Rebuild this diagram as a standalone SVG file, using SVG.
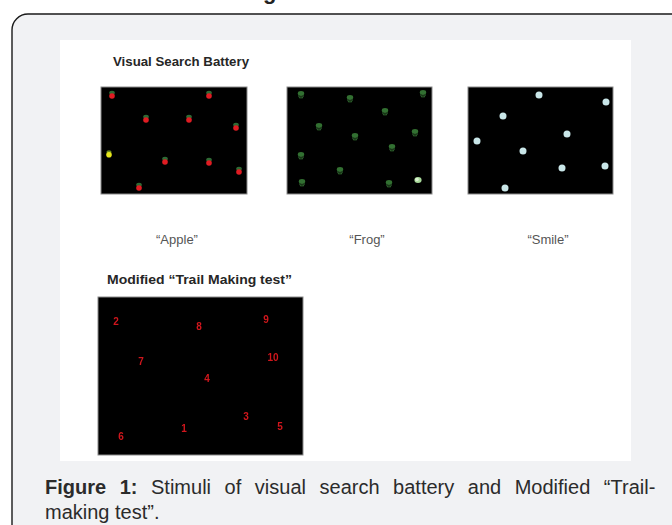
<svg xmlns="http://www.w3.org/2000/svg" width="672" height="525" viewBox="0 0 672 525">
  <defs>
    <style>
      .frame { fill: #f1f2f4; stroke: #1a1a1a; stroke-width: 1.4; }
      .sheet { fill: #ffffff; }
      .screen { fill: #000000; stroke: #8a8a8a; stroke-width: 1; }
      .head { font-family: "Liberation Sans", Arial, sans-serif; font-weight: bold; font-size: 12.5px; fill: #262626; }
      .label { font-family: "Liberation Sans", Arial, sans-serif; font-size: 13px; fill: #555555; }
      .num { font-family: "Liberation Sans", Arial, sans-serif; font-weight: bold; font-size: 10px; fill: #d0161c; text-anchor: middle; dominant-baseline: central; }
      .cap { font-family: "Liberation Sans", Arial, sans-serif; font-size: 20px; fill: #2b2b2b; }
      .capb { font-weight: bold; }
      .smile { fill: #c9e6e8; }
    </style>
    <filter id="soft" x="-20%" y="-20%" width="140%" height="140%">
      <feGaussianBlur stdDeviation="0.45"/>
    </filter>
    <!-- apple: green cap over red body -->
    <g id="apple">
      <ellipse cx="0" cy="-2.2" rx="2.8" ry="2" fill="#2f6b34"/>
      <circle cx="0" cy="1" r="2.8" fill="#e01c22"/>
    </g>
    <g id="apple-y">
      <ellipse cx="0" cy="-2" rx="2.6" ry="1.7" fill="#6a8a20"/>
      <circle cx="0" cy="0.8" r="2.8" fill="#e6e61a"/>
    </g>
    <!-- frog: small dark green figure -->
    <g id="frog">
      <ellipse cx="0" cy="-1.5" rx="3.2" ry="2.4" fill="#326f30"/>
      <path d="M-2.6,0.5 L-1,3.2 M2.6,0.5 L1,3.2 M0,0 L0,3.6" stroke="#2c602b" stroke-width="1.1" fill="none"/>
    </g>
    <g id="frog-b">
      <ellipse cx="0" cy="0" rx="3.6" ry="3" fill="#a8d89a"/>
      <circle cx="-1" cy="-0.5" r="1.8" fill="#d9f2cf"/>
    </g>
  </defs>

  <!-- card background -->
  <rect class="frame" x="12" y="14" width="690" height="530" rx="16"/>
  <text class="head" x="263" y="-1" style="font-size:22px;fill:#222">g</text>

  <rect class="sheet" x="60" y="40" width="571" height="421"/>

  <g id="battery-title">
    <text class="head" x="113" y="66" textLength="136" lengthAdjust="spacingAndGlyphs">Visual Search Battery</text>
  </g>

  <!-- "Apple" display -->
  <g id="apple-panel">
    <rect class="screen" x="101" y="87" width="146" height="107"/>
    <g filter="url(#soft)">
      <use href="#apple" x="112" y="95"/>
      <use href="#apple" x="209" y="95"/>
      <use href="#apple" x="146" y="119"/>
      <use href="#apple" x="189" y="119"/>
      <use href="#apple" x="236" y="127"/>
      <use href="#apple-y" x="109" y="154"/>
      <use href="#apple" x="165" y="161"/>
      <use href="#apple" x="209" y="162"/>
      <use href="#apple" x="239" y="171"/>
      <use href="#apple" x="139" y="187"/>
    </g>
    <text class="label" x="177" y="244" text-anchor="middle">“Apple”</text>
  </g>

  <!-- "Frog" display -->
  <g id="frog-panel">
    <rect class="screen" x="287" y="87" width="145" height="107"/>
    <g filter="url(#soft)">
      <use href="#frog" x="301" y="95"/>
      <use href="#frog" x="350" y="99"/>
      <use href="#frog" x="423" y="94"/>
      <use href="#frog" x="385" y="112"/>
      <use href="#frog" x="319" y="127"/>
      <use href="#frog" x="355" y="137"/>
      <use href="#frog" x="415" y="133"/>
      <use href="#frog" x="392" y="148"/>
      <use href="#frog" x="301" y="156"/>
      <use href="#frog" x="340" y="171"/>
      <use href="#frog" x="302" y="183"/>
      <use href="#frog" x="389" y="184"/>
      <use href="#frog-b" x="418" y="180"/>
    </g>
    <text class="label" x="367" y="244" text-anchor="middle">“Frog”</text>
  </g>

  <!-- "Smile" display -->
  <g id="smile-panel">
    <rect class="screen" x="468" y="87" width="145" height="107"/>
    <g filter="url(#soft)">
      <circle class="smile" cx="539" cy="95" r="3.5"/>
      <circle class="smile" cx="606" cy="102" r="3.5"/>
      <circle class="smile" cx="503" cy="116" r="3.5"/>
      <circle class="smile" cx="567" cy="134" r="3.5"/>
      <circle class="smile" cx="477" cy="141" r="3.5"/>
      <circle class="smile" cx="523" cy="151" r="3.5"/>
      <circle class="smile" cx="562" cy="168" r="3.5"/>
      <circle class="smile" cx="605" cy="166" r="3.5"/>
      <circle class="smile" cx="505" cy="188" r="3.5"/>
    </g>
    <text class="label" x="548" y="244" text-anchor="middle">“Smile”</text>
  </g>

  <g id="trail-title">
    <text class="head" x="107" y="284" textLength="185" lengthAdjust="spacingAndGlyphs">Modified “Trail Making test”</text>
  </g>

  <!-- Trail Making display -->
  <g id="trail-panel">
    <rect class="screen" x="98" y="297" width="205" height="158"/>
    <g filter="url(#soft)">
      <text class="num" x="116" y="321">2</text>
      <text class="num" x="199" y="326">8</text>
      <text class="num" x="266" y="319">9</text>
      <text class="num" x="141" y="361">7</text>
      <text class="num" x="273" y="357">10</text>
      <text class="num" x="207" y="378">4</text>
      <text class="num" x="246" y="416">3</text>
      <text class="num" x="280" y="426">5</text>
      <text class="num" x="184" y="428">1</text>
      <text class="num" x="121" y="436">6</text>
    </g>
  </g>

  <g id="caption">
    <text class="cap" x="45" y="494" word-spacing="8"><tspan class="capb">Figure 1:</tspan> Stimuli of visual search battery and Modified “Trail-</text>
    <text class="cap" x="45" y="519">making test”.</text>
  </g>
</svg>
